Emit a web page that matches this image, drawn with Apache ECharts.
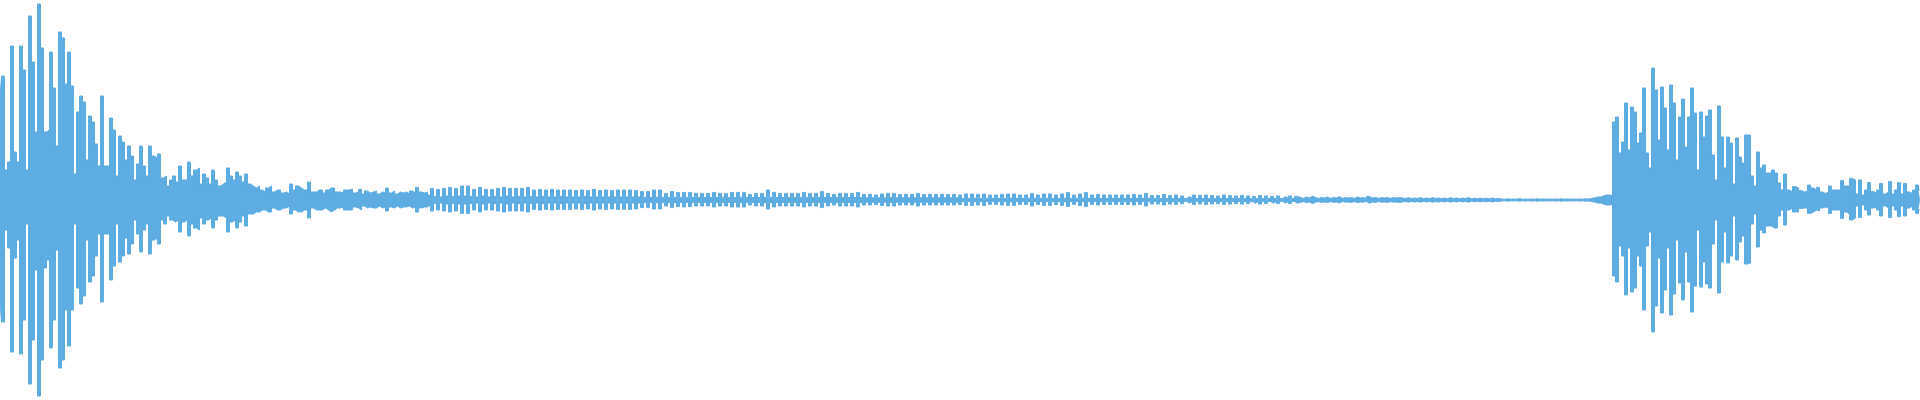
<!DOCTYPE html>
<html>
<head>
<meta charset="utf-8">
<script src="https://cdn.jsdelivr.net/npm/echarts@6/dist/echarts.min.js"></script>
<style>html,body{margin:0;padding:0;background:#fff}#c{width:1920px;height:400px}</style>
</head>
<body>
<div id="c"></div>
<script>
// Waveform envelope, one sample every 3 columns (641 samples), amplitude in % of full scale.
// Segment 1: first strike and its decay (samples 0-116)
const burst1Hi = [50,62,15,19,77,24,19,77,65,15,92,69,34,98,76,34,35,74,56,27,84,81,58,74,57,13,44,52,49,20,42,39,28,17,52,17,17,
41,35,12,32,29,20,27,22,10,18,27,17,12,27,22,21,23,11,12,7,10,12,9,17,10,10,19,12,15,16,8,13,11,8,15,10,7,
8,9,16,12,10,14,12,9,13,8,7,6,7,5,4,6,7,4,5,5,3.5,4,3,8,5,7,6,5,5,9,4,4,5,5,3.5,5,6,6,4,4,3.5,5,5];
const burst1Lo = [-50,-61,-15,-24,-76,-29,-20,-77,-60,-12,-92,-70,-35,-98,-80,-34,-30,-74,-60,-25,-84,-80,-55,-73,-55,-12,-44,-52,-48,-20,-41,-38,-28,-17,-51,-17,-17,
-40,-33,-12,-31,-28,-19,-27,-22,-10,-17,-26,-15,-12,-27,-20,-19,-22,-10,-12,-8,-10,-11,-10,-16,-11,-10,-18,-12,-14,-15,-9,-12,-10,-9,-14,-10,-8,
-8,-9,-16,-11,-10,-14,-11,-8,-13,-7,-7,-6,-6,-5,-5,-6,-6,-4,-5,-5,-4,-4,-3,-7,-5,-6,-6,-5,-5,-9,-4,-5,-5,-5,-4,-5,-6,-5,-4,-4,-3.5,-5,-5];
// Segment 2: tail with beating (samples 117-213)
const tail1Hi = [5.5,3.5,4,5.3,3,4.5,3.5,4,4.5,3,4,3.5,6,3.5,4.5,3,4,3.5,4,3,4.5,3.5,6.3,4,3.5,4,2.5,
5.8,1.8,5.3,1.5,5.8,2,6.3,1.8,5.8,2,7,2,7,1.8,5.3,1.5,6.3,2,5.3,1.5,5.3,1.8,5.8,1.5,6.3,2,5.8,1.5,5.8,1.8,5.8,1.5,6.3,1.8,5,1.5,5.3,1.8,5,1.5,5.3,1.5,5,1.8,5,1.5,5,1.5,4.7,1.5,5,1.8,4.7,1.5,5.3,1.5,4.7,1.5,5,1.5,4.7,1.5,5,1.5,5,1.5,5,1.5,4.7,1.5];
const tail1Lo = [-5,-3.5,-4,-5,-3,-4,-3.5,-4,-4,-3,-4,-3.5,-5.5,-3.5,-4,-3,-4,-3.5,-3.5,-3,-4,-3.5,-6,-4,-3.5,-3.5,-2.5,
-5.5,-1.8,-5,-1.5,-5.5,-2,-6,-1.8,-5.5,-2,-6.7,-2,-6.7,-1.8,-5,-1.5,-6,-2,-5,-1.5,-5,-1.8,-5.5,-1.5,-6,-2,-5.5,-1.5,-5.5,-1.8,-5.5,-1.5,-6,-1.8,-4.7,-1.5,-5,-1.8,-4.7,-1.5,-5,-1.5,-4.7,-1.8,-4.7,-1.5,-4.7,-1.5,-4.5,-1.5,-4.7,-1.8,-4.5,-1.5,-5,-1.5,-4.5,-1.5,-4.7,-1.5,-4.5,-1.5,-4.7,-1.5,-4.7,-1.5,-4.7,-1.5,-4.5,-1.5];
// Segment 3: samples 214-319
const mid1Hi = [4.2,1.3,4.2,1.2,5,1.4,5,1.3,3.3,1.2,4.2,1.3,3.7,1.2,3.8,1.3,3.7,1.2,3.3,1.2,3.3,1.3,3.3,1.2,3.8,1.2,3.3,1.3,3.3,1.2,3.8,1.2,3.8,1.3,3.8,1.2,2.8,1.2,3.3,1.2,3.3,1.3,5,1.3,3.8,1.2,3.3,1.2,3.3,1.2,3.3,1.2,3.3,1.3,3.8,1.2,3.3,1.2,3.3,1.2,4.2,1.3,3.3,1.2,2.8,1.2,3.3,1.2,3.3,1.2,3.3,1.2,3.8,1.2,2.8,1.1,2.8,1.1,2.5,1.1,3,1.1,3.3,1.2,3.3,1.1,2.8,1.1,2.8,1.1,2.8,1.1,3.3,1.1,2.8,1.1,2.8,1.1,2.8,1.1,2.8,1.1,2.8,1.1,2.8,1.1];
const mid1Lo = [-3.8,-1.3,-3.8,-1.2,-4.5,-1.4,-4.5,-1.3,-3,-1.2,-3.8,-1.3,-3.3,-1.2,-3.5,-1.3,-3.3,-1.2,-3,-1.2,-3,-1.3,-3,-1.2,-3.5,-1.2,-3,-1.3,-3,-1.2,-3.5,-1.2,-3.5,-1.3,-3.5,-1.2,-2.5,-1.2,-3,-1.2,-3,-1.3,-4.5,-1.3,-3.5,-1.2,-3,-1.2,-3,-1.2,-3,-1.2,-3,-1.3,-3.5,-1.2,-3,-1.2,-3,-1.2,-3.8,-1.3,-3,-1.2,-2.5,-1.2,-3,-1.2,-3,-1.2,-3,-1.2,-3.5,-1.2,-2.5,-1.1,-2.5,-1.1,-2.3,-1.1,-2.7,-1.1,-3,-1.2,-3,-1.1,-2.5,-1.1,-2.5,-1.1,-2.5,-1.1,-3,-1.1,-2.5,-1.1,-2.5,-1.1,-2.5,-1.1,-2.5,-1.1,-2.5,-1.1,-2.5,-1.1];
// Segment 4: samples 320-432
const mid2Hi = [2.5,0.8,3,0.8,3,0.9,2.8,0.8,3,0.8,2.5,0.8,2.5,0.8,2.8,0.8,3,0.9,3,0.8,2.5,0.8,2.5,0.8,3.3,0.8,2.5,0.8,3,0.8,3,0.8,2.5,0.8,3,0.9,3.7,0.8,2.5,0.8,3,0.9,3.7,0.8,2.5,0.8,2.8,0.8,2.5,0.8,2.5,0.8,2.5,0.8,2.5,0.8,2.5,0.8,2.8,0.8,2.5,0.8,3.3,0.8,2.2,0.7,2.2,0.7,2.8,0.7,2.2,0.7,2.5,0.7,2,0.7,1.7,0.7,2.5,0.7,
2.3,0.7,2.5,0.7,2.2,0.7,2,0.7,2.5,0.7,2.2,0.7,2,0.7,2.3,0.7,2,0.7,1.8,0.7,2.2,0.7,2,0.7,1.8,0.7,2,0.7,1.7,0.7,2,0.7,1.8];
const mid2Lo = [-2.2,-0.8,-2.7,-0.8,-2.7,-0.9,-2.5,-0.8,-2.7,-0.8,-2.2,-0.8,-2.2,-0.8,-2.5,-0.8,-2.7,-0.9,-2.7,-0.8,-2.2,-0.8,-2.2,-0.8,-3,-0.8,-2.2,-0.8,-2.7,-0.8,-2.7,-0.8,-2.2,-0.8,-2.7,-0.9,-3.3,-0.8,-2.2,-0.8,-2.7,-0.9,-3.3,-0.8,-2.2,-0.8,-2.5,-0.8,-2.2,-0.8,-2.2,-0.8,-2.2,-0.8,-2.2,-0.8,-2.2,-0.8,-2.5,-0.8,-2.2,-0.8,-3,-0.8,-2,-0.7,-2,-0.7,-2.5,-0.7,-2,-0.7,-2.2,-0.7,-1.8,-0.7,-1.5,-0.7,-2.2,-0.7,
-2,-0.7,-2.2,-0.7,-2,-0.7,-1.8,-0.7,-2.2,-0.7,-2,-0.7,-1.8,-0.7,-2,-0.7,-1.8,-0.7,-1.6,-0.7,-2,-0.7,-1.8,-0.7,-1.6,-0.7,-1.8,-0.7,-1.5,-0.7,-1.8,-0.7,-1.6];
// Segment 5: near-silence, samples 433-532
const quietHi = [1.3,0.8,1.5,1,2,1.2,0.8,1.3,1,1.5,0.8,1.3,1,1.7,0.8,1.2,1,1.3,0.8,1.5,1,1.2,0.7,1.8,1,1.3,0.8,1.2,1,1.3,0.8,1.2,1,1.3,
1,0.7,1.2,0.7,1,0.8,1.2,0.7,1,0.7,1.2,0.8,1,0.7,1,0.6,1.2,0.7,1,0.6,1,0.7,1.2,0.6,0.9,0.6,1,0.6,0.9,0.6,1,0.6,0.8,
0.5,0.4,0.6,0.4,0.5,0.4,0.7,0.4,0.5,0.4,0.5,0.4,0.6,0.4,0.5,0.4,0.5,0.4,0.5,0.4,0.6,0.4,0.5,0.4,0.5,0.4,0.5,0.4,0.6,0.5,0.8,1,1.5];
const quietLo = [-1.2,-0.8,-1.3,-1,-1.8,-1.1,-0.8,-1.2,-1,-1.3,-0.8,-1.2,-1,-1.5,-0.8,-1.1,-1,-1.2,-0.8,-1.3,-1,-1.1,-0.7,-1.6,-1,-1.2,-0.8,-1.1,-1,-1.2,-0.8,-1.1,-1,-1.2,
-1,-0.7,-1.1,-0.7,-1,-0.8,-1.1,-0.7,-1,-0.7,-1.1,-0.8,-1,-0.7,-1,-0.6,-1.1,-0.7,-1,-0.6,-1,-0.7,-1.1,-0.6,-0.9,-0.6,-1,-0.6,-0.9,-0.6,-1,-0.6,-0.8,
-0.5,-0.4,-0.6,-0.4,-0.5,-0.4,-0.6,-0.4,-0.5,-0.4,-0.5,-0.4,-0.6,-0.4,-0.5,-0.4,-0.5,-0.4,-0.5,-0.4,-0.6,-0.4,-0.5,-0.4,-0.5,-0.4,-0.5,-0.4,-0.6,-0.5,-0.8,-1,-1.5];
// Segment 6: second strike, samples 533-640
const burst2Hi = [1.5,2,2.5,2.5,2,39,41.5,23.5,29,48.5,25,46.5,44,28.5,33.5,56,23.5,16,66,55,30,56.5,46,25,57.5,48.5,20,41.5,50.5,26.5,41.5,56,43.5,15,44,31.5,42,45,22.5,10,47,31.5,16,31.5,28.5,8,31,21.5,18.5,32.5,32.5,12,7,24,16,17.5,13.5,13.5,15,13.5,8.5,5,13,5,4,6.7,6,4.7,4,4.5,7.5,6,5,6.3,4,3.3,4,7,5,5,5,9.7,7,7,10.8,10,3,10,2.5,5,8.7,4.2,3.5,5,8.3,3,4,9.2,3,5,8.7,3,8.3,4,3.3,5,7.5,5];
const burst2Lo = [-1.5,-2,-2.5,-2.5,-2,-38,-41,-23,-28,-47.5,-24,-46,-44,-28,-33,-55,-23,-16,-66,-53,-29,-56.5,-45,-24,-57.5,-47,-20,-41.5,-50,-26,-41,-56,-43,-15,-43.5,-31,-42,-44,-22,-10,-46.5,-31,-16,-31.5,-28,-8,-30,-21,-18,-32,-31.5,-12,-7,-23.5,-15,-16.5,-13,-13,-14,-14,-8,-5,-12.5,-5,-4,-6,-6,-4.2,-4,-4,-6.7,-6,-5,-5.5,-4,-3.5,-4,-6.7,-5,-5,-5,-9.2,-6,-7,-10,-9,-3,-8.7,-2.5,-5,-7.5,-4,-3.5,-5,-8,-3,-4,-8.7,-3,-5,-8.3,-3,-8,-4,-3,-5,-6.7,-5];

const segments = [
  [burst1Hi, burst1Lo, 117], [tail1Hi, tail1Lo, 97], [mid1Hi, mid1Lo, 106],
  [mid2Hi, mid2Lo, 113], [quietHi, quietLo, 100], [burst2Hi, burst2Lo, 108]
];
let hi = [], lo = [];
segments.forEach(function (s, k) {
  if (s[0].length !== s[2] || s[1].length !== s[2]) {
    throw new Error('segment ' + k + ' lengths hi=' + s[0].length + ' lo=' + s[1].length + ' expected ' + s[2]);
  }
  hi = hi.concat(s[0]); lo = lo.concat(s[1]);
});
const samples = hi.map(function (_, i) { return String(i); });

const color = '#5DADE2';
const chart = echarts.init(document.getElementById('c'), null, { renderer: 'canvas' });
chart.setOption({
  animation: false,
  backgroundColor: '#ffffff',
  grid: { left: 0, right: 0, top: 0, bottom: 0 },
  xAxis: { type: 'category', data: samples, boundaryGap: false, show: false },
  yAxis: { type: 'value', min: -100, max: 100, show: false },
  series: [
    { type: 'line', data: hi, step: 'middle', symbol: 'none', lineStyle: { width: 1, color: color },
      areaStyle: { color: color, opacity: 1 }, itemStyle: { color: color } },
    { type: 'line', data: lo, step: 'middle', symbol: 'none', lineStyle: { width: 1, color: color },
      areaStyle: { color: color, opacity: 1 }, itemStyle: { color: color } }
  ]
});
</script>
</body>
</html>
